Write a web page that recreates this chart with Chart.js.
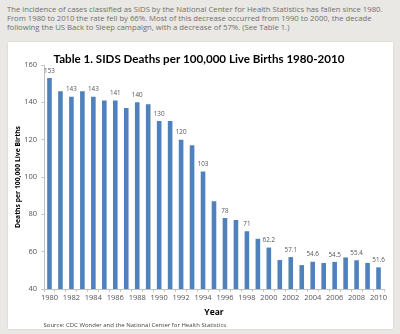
<!DOCTYPE html>
<html>
<head>
<meta charset="utf-8">
<script src="https://cdn.jsdelivr.net/npm/chart.js@4"></script>
<style>
  html, body { margin: 0; padding: 0; }
  body { width: 400px; height: 334px; background: #e9e8e4; position: relative; overflow: hidden; }
  #intro {
    position: absolute; left: 7px; top: 5px; margin: 0;
    font-family: "Open Sans", sans-serif; font-size: 7.7px; line-height: 9px; color: #707070;
    white-space: nowrap;
  }
  #panel {
    position: absolute; left: 8px; top: 42px; width: 385px; height: 287px;
    background: #ffffff; box-shadow: 0 0 2px rgba(0,0,0,0.12);
  }
  #wrap { position: absolute; left: 0; top: 0; width: 400px; height: 334px; }
</style>
</head>
<body>
<p id="intro">The incidence of cases classified as SIDS by the National Center for Health Statistics has fallen since 1980.<br>From 1980 to 2010 the rate fell by 66%. Most of this decrease occurred from 1990 to 2000, the decade<br>following the US Back to Sleep campaign, with a decrease of 57%. (See Table 1.)</p>
<div id="panel"></div>
<div id="wrap"><canvas id="c" width="400" height="334"></canvas></div>
<script>
// SIDS deaths per 100,000 live births, one value per year
const years = [1980, 1981, 1982, 1983, 1984, 1985, 1986, 1987, 1988, 1989,
               1990, 1991, 1992, 1993, 1994, 1995, 1996, 1997, 1998, 1999,
               2000, 2001, 2002, 2003, 2004, 2005, 2006, 2007, 2008, 2009, 2010];
const deaths = [153, 146, 143, 146, 143, 141, 141, 137, 140, 139,
                130, 130, 120, 117, 103, 87, 78, 77, 71, 66.9,
                62.2, 55.5, 57.1, 52.8, 54.6, 53.9, 54.5, 56.9, 55.4, 54.0, 51.6];
// years whose bars carry a value label
const labelledYears = [1980, 1982, 1984, 1986, 1988, 1990, 1992, 1994, 1996,
                       1998, 2000, 2002, 2004, 2006, 2008, 2010];
const yTicks = [40, 60, 80, 100, 120, 140, 160];
const sourceNote = 'Source: CDC Wonder and the National Center for Health Statistics';

// value labels above the labelled bars, plus the source note under the axis
const barValueLabels = {
  id: 'barValueLabels',
  afterDatasetsDraw(chart) {
    const ctx = chart.ctx;
    const meta = chart.getDatasetMeta(0);
    ctx.save();
    ctx.font = '6.3px "Open Sans", sans-serif';
    ctx.fillStyle = '#555';
    ctx.textAlign = 'center';
    ctx.textBaseline = 'bottom';
    meta.data.forEach((bar, i) => {
      if (!labelledYears.includes(years[i])) return;
      ctx.fillText(String(deaths[i]), bar.x, bar.y - 4);
    });
    ctx.restore();
  },
  afterDraw(chart) {
    const ctx = chart.ctx;
    ctx.save();
    ctx.font = '6px "Open Sans", sans-serif';
    ctx.fillStyle = '#444';
    ctx.textAlign = 'left';
    ctx.textBaseline = 'middle';
    ctx.fillText(sourceNote, chart.chartArea.left - 0.5, chart.scales.x.bottom + 7);
    ctx.restore();
  }
};

new Chart(document.getElementById('c'), {
  type: 'bar',
  data: {
    labels: years.map(String),
    datasets: [{
      data: deaths,
      backgroundColor: '#4f81bd',
      borderWidth: 0,
      barPercentage: 0.42,
      categoryPercentage: 1.0
    }]
  },
  options: {
    responsive: false,
    animation: false,
    devicePixelRatio: 1,
    layout: { padding: { left: 14, right: 16, top: 44, bottom: 16 } },
    plugins: {
      legend: { display: false },
      tooltip: { enabled: false },
      title: {
        display: true,
        text: 'Table 1. SIDS Deaths per 100,000 Live Births 1980-2010',
        color: '#000',
        font: { family: 'Lato, "Liberation Sans", sans-serif', size: 11.6, weight: 'bold', lineHeight: 1.0 },
        padding: { top: 9, bottom: 0.4 }
      }
    },
    scales: {
      x: {
        afterFit(scale) { scale.height = 29; },
        grid: { display: true, drawOnChartArea: false, tickLength: 3, color: '#c8c8c8', offset: true },
        border: { display: true, color: '#c0c0c0' },
        ticks: {
          autoSkip: false, maxRotation: 0, minRotation: 0,
          padding: 1,
          color: '#555',
          font: { family: '"Open Sans", sans-serif', size: 7.5 },
          callback(value, index) { return years[index] % 2 === 0 ? String(years[index]) : ''; }
        },
        title: {
          display: true, text: 'Year', color: '#000',
          font: { family: '"Open Sans", sans-serif', size: 8.5, weight: 'bold' },
          padding: { top: 0, bottom: 0 }
        }
      },
      y: {
        min: 40, max: 160,
        afterFit(scale) { scale.width = 30; },
        afterBuildTicks(scale) { scale.ticks = yTicks.map(v => ({ value: v })); },
        grid: { display: true, drawOnChartArea: false, tickLength: 3, color: '#c8c8c8' },
        border: { display: true, color: '#c0c0c0' },
        ticks: {
          padding: 4,
          color: '#555',
          font: { family: '"Open Sans", sans-serif', size: 7.5 }
        },
        title: {
          display: true, text: 'Deaths per 100,000 Live Births', color: '#000',
          font: { family: '"Open Sans", sans-serif', size: 6.8, weight: 'bold' },
          padding: { top: 0, bottom: 0 }
        }
      }
    }
  },
  plugins: [barValueLabels]
});
</script>
</body>
</html>
